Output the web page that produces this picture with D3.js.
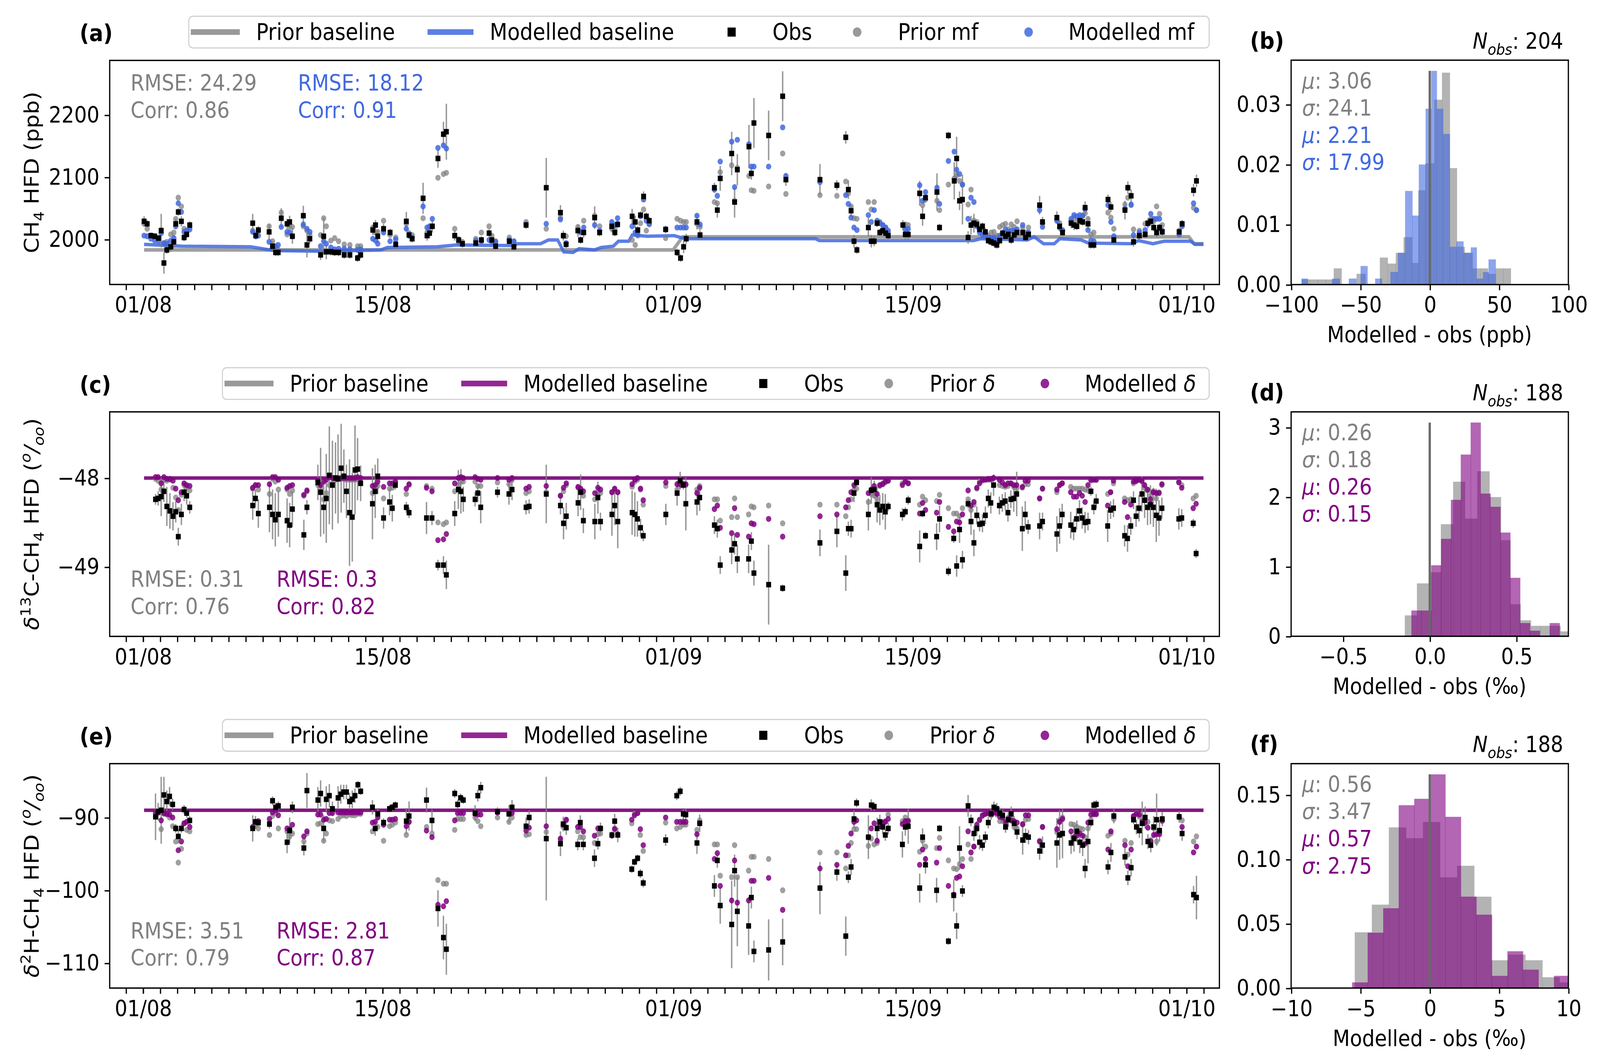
<!DOCTYPE html>
<html><head><meta charset="utf-8">
<script src="https://cdn.jsdelivr.net/npm/d3@7"></script>
<style>html,body{margin:0;padding:0;overflow:hidden;background:#fff}text{font-family:"DejaVu Sans",sans-serif}
#c{position:fixed;left:0;top:0;width:100vw;height:100vh;display:block}</style>
</head><body><svg id="c"></svg>
<script>
// ---------- DATA: [day since 01/08, obs, prior, modelled, obs error] ----------
const ch4 = [
[0.07,2029,2025,2006,8],[0.25,2025,2017,2005,6],[0.47,2006,2006,2001,5],[0.69,2005,2005,1998,5],[0.91,2002,2002,1997,5],
[1.07,2014,2015,2010,27],[1.23,1962,1993,1994,17],[1.40,1983,1996,1993,6],[1.63,1988,2008,1998,8],[1.81,1996,2011,2002,10],
[1.92,2025,2033,2021,8],[2.07,2044,2067,2058,6],[2.25,2029,2053,2044,8],[2.41,2003,2017,2012,6],[2.56,2008,2012,2014,6],
[2.74,2023,2020,2016,6],[6.42,2026,2014,2012,15],[6.60,2006,2006,2005,6],[6.75,2015,2014,2006,6],[7.38,2012,2021,1996,12],
[7.58,1989,1997,1988,8],[7.76,1979,1983,1989,6],[7.91,1979,1983,1991,6],[8.09,2034,2043,2020,16],[8.43,2025,2008,2012,8],
[8.58,2028,2020,2011,10],[8.74,2005,2020,2005,12],[9.38,2038,2021,2024,16],[9.59,1991,2014,2017,20],[9.76,2001,2007,2012,8],
[10.39,1975,2007,1989,8],[10.57,2005,2034,1997,30],[10.72,1980,2021,1993,12],[10.99,1980,1998,1987,6],[11.21,1979,2002,1984,6],
[11.44,1979,1997,1985,6],[11.77,1975,1992,1985,6],[12.10,1975,1991,1984,6],[12.55,1970,1989,1983,6],[12.73,1975,1989,1984,6],
[13.44,2015,2019,2001,8],[13.60,2023,2011,1998,8],[13.73,2005,2012,1993,10],[14.07,2017,2030,2011,8],[14.45,2011,2007,1997,6],
[14.78,1992,2003,2000,6],[15.40,2029,2025,2017,15],[15.56,2007,2010,2006,6],[15.74,2001,2007,2003,6],[16.38,2066,2034,2053,25],
[16.61,2006,2011,2019,8],[16.76,2010,2019,2021,8],[16.92,2021,2021,2033,10],[17.25,2130,2099,2147,15],[17.57,2169,2105,2151,20],
[17.74,2173,2107,2146,45],[18.23,2006,2017,2006,8],[18.46,1999,2000,1996,6],[18.68,1993,1996,1992,6],[19.46,1994,2001,1998,6],
[19.79,1999,2011,1997,6],[20.24,2010,2021,1999,6],[20.40,1999,2006,1996,6],[20.62,1989,1997,1996,6],[21.42,1997,2003,1999,6],
[21.69,1988,1996,1997,6],[22.40,2023,2028,2024,6],[23.58,2083,2017,2025,48],[24.41,2043,2035,2032,12],[24.58,2006,2005,2006,8],
[24.74,1992,2005,1994,6],[25.43,2014,2020,2015,10],[25.59,1999,2011,2012,6],[25.77,2011,2030,2019,8],[26.41,2035,2038,2023,18],
[26.70,2011,2021,2014,6],[27.41,2021,2017,2028,10],[27.59,2011,2015,2023,6],[27.75,2024,2025,2034,6],[28.60,2037,1999,2021,12],
[28.78,2028,1991,2011,10],[28.93,2015,2006,2008,6],[29.09,2039,2026,2037,6],[29.27,2069,2048,2064,8],[29.43,2037,2014,2030,6],
[29.60,2030,2024,2025,6],[30.56,2016,2002,2016,6],[31.23,1979,2033,2019,6],[31.43,1970,2030,2019,6],[31.61,1988,2028,2019,10],
[31.76,2001,2028,2019,8],[32.39,2028,2025,2038,12],[32.57,2007,2020,2024,8],
[33.41,2083,2060,2080,8],[33.58,2047,2058,2070,12],[33.75,2098,2108,2125,20],[34.42,2138,2119,2157,35],[34.59,2060,2062,2084,25],
[34.75,2112,2115,2160,25],[35.43,2149,2102,2153,35],[35.57,2106,2079,2117,10],[35.72,2187,2078,2117,40],[36.58,2167,2085,2117,40],
[37.40,2230,2138,2180,40],[37.59,2096,2073,2102,10],[39.58,2096,2071,2092,25],[40.57,2087,2070,2087,8],[41.09,2164,2093,2071,10],
[41.24,2080,2074,2057,15],[41.40,2046,2053,2035,10],[41.57,1997,2034,2019,10],[41.74,1983,2033,2015,6],[42.41,2019,2060,2039,15],
[42.58,1997,2048,2028,10],[42.75,1997,2060,2047,8],[42.92,2026,2026,2030,6],[43.08,2011,2028,2026,6],[43.25,2014,2023,2023,6],
[43.42,2010,2019,2019,6],[43.57,2006,2011,2014,6],[44.43,2023,2023,2023,8],[44.57,2008,2024,2016,10],[44.74,2008,2023,2017,8],
[45.41,2074,2073,2087,20],[45.58,2037,2055,2062,15],[45.75,2067,2064,2076,8],[46.42,2076,2062,2083,30],[46.57,2019,2047,2057,6],
[47.09,2167,2088,2126,6],[47.43,2094,2098,2141,30],[47.57,2130,2103,2112,35],[47.74,2062,2094,2105,15],[47.91,2064,2088,2088,40],
[48.24,2003,2056,2033,10],[48.41,2023,2080,2067,15],[48.58,2026,2030,2060,15],[48.75,2024,2028,2021,6],[48.91,2016,2015,2011,6],
[49.08,2021,2019,2008,6],[49.25,2012,2010,2006,6],[49.42,1998,2006,2003,6],[49.59,1996,2011,2002,6],[49.75,1994,2012,2003,6],
[49.92,1991,2006,1999,6],[50.09,1998,2020,2006,6],[50.26,2010,2023,2010,6],[50.43,2005,2025,2016,6],[50.59,2008,2016,2012,6],
[50.76,1999,2024,2014,6],[50.93,2007,2020,2014,8],[51.10,2011,2029,2016,8],[51.43,2011,2019,2023,6],[51.60,2003,2011,2008,6],
[51.77,2008,2019,2011,6],[52.42,2055,2053,2047,15],[52.59,2028,2026,2020,8],[53.43,2035,2032,2030,10],[53.59,2021,2026,2019,8],
[53.76,2011,2015,2014,6],[54.26,2026,2029,2033,8],[54.43,2023,2035,2039,8],[54.60,2021,2028,2037,6],[54.77,2030,2034,2039,6],
[54.94,2028,2038,2038,6],[55.08,2051,2042,2049,10],[55.25,2025,2033,2015,10],[55.42,1991,2008,1998,6],[55.59,1991,2011,1997,6],
[56.42,2064,2043,2055,8],[56.59,2052,2035,2028,8],[56.76,1999,2017,2005,6],[57.41,2047,2056,2049,15],[57.58,2083,2067,2083,10],
[57.77,2070,2055,2056,10],[57.91,1996,2016,2007,8],[58.25,2006,2014,2011,6],[58.59,2008,2025,2015,6],[58.75,2026,2026,2025,8],
[58.92,2029,2033,2041,6],[59.09,2019,2029,2033,6],[59.26,2011,2053,2033,8],[59.43,2019,2041,2033,6],[59.59,2012,2023,2014,6],
[60.58,2012,2014,2008,6],[60.75,2025,2025,2021,6],[61.42,2079,2051,2058,10],[61.59,2094,2047,2047,10]];
const ch4PriorBase = [[0.07,1983],[31.0,1983],[31.55,2004],[61.15,2004],[61.45,1993],[62.0,1993]];
const ch4ModelBase = [[0.07,1992],[2.3,1989],[6.3,1988],[7.65,1982],[10.3,1981],[13.9,1983],[14.3,1987],[17.2,1988],[18.35,1991],
[21.7,1990],[21.9,1993],[23.25,1993],[23.7,1999],[24.25,1999],[24.6,1980],[25.15,1979],[25.5,1985],[26.4,1983],[26.8,1987],
[27.5,1989],[27.8,1997],[28.4,1997],[28.6,2007],[29.5,2005],[31.05,2006],[31.7,2001],[39.33,2001],[39.54,1998],[48.56,1998],
[48.98,2001],[51.7,1999],[52.1,2004],[52.65,1993],[53.28,1993],[53.6,2001],[54.85,1999],[55.27,1994],[57.8,1993],[58.2,1998],
[59.05,1993],[59.7,1997],[61.25,1997],[61.5,1992],[62.0,1992]];

const d13c = [
[0.74,-48.24,-48.01,-47.99,0.06],[0.89,-48.23,-48.03,-47.99,0.08],[1.07,-48.21,-48.13,-48.06,0.22],[1.23,-48.15,-48.02,-47.99,0.12],
[1.40,-48.32,-48.03,-48.01,0.22],[1.58,-48.37,-48.02,-48.01,0.2],[1.76,-48.43,-48.11,-48.03,0.16],[1.92,-48.38,-48.22,-48.12,0.12],
[2.07,-48.66,-48.36,-48.25,0.1],[2.25,-48.41,-48.19,-48.16,0.12],[2.41,-48.16,-48.08,-48.06,0.1],[2.56,-48.20,-48.11,-48.08,0.1],
[2.74,-48.33,-48.14,-48.09,0.07],[6.42,-48.31,-48.12,-48.11,0.16],[6.58,-48.23,-48.08,-48.08,0.1],[6.75,-48.40,-48.13,-48.08,0.16],
[7.40,-48.33,-48.18,-48.07,0.28],[7.58,-48.41,-48.01,-47.99,0.28],[7.74,-48.47,-48.04,-47.99,0.3],[7.92,-48.41,-48.13,-48.02,0.25],
[8.43,-48.48,-48.13,-48.11,0.25],[8.58,-48.53,-48.18,-48.09,0.25],[8.74,-48.35,-48.14,-48.08,0.2],[9.41,-48.64,-48.20,-48.19,0.17],
[9.59,-48.33,-48.15,-48.14,0.08],[10.23,-48.05,-48.08,-48.03,0.2],[10.39,-48.16,-48.11,-48.08,0.5],[10.57,-48.33,-48.24,-48.04,0.3],
[10.72,-48.23,-48.17,-48.02,0.5],[10.90,-47.97,-48.08,-47.99,0.55],[11.08,-48.08,-48.06,-48.00,0.5],[11.26,-48.00,-48.02,-48.00,0.4],
[11.41,-48.01,-48.01,-48.00,0.5],[11.59,-47.89,-48.01,-48.00,0.5],[11.75,-47.98,-48.01,-48.00,0.3],[11.90,-48.15,-48.02,-48.00,0.3],
[12.08,-48.39,-48.02,-48.00,0.6],[12.24,-48.44,-48.02,-48.00,0.5],[12.40,-47.91,-48.02,-48.00,0.5],[12.55,-47.90,-48.01,-47.99,0.35],
[12.73,-48.06,-48.01,-48.00,0.2],[13.42,-48.29,-48.17,-48.09,0.4],[13.58,-48.15,-48.14,-48.08,0.3],[13.73,-47.98,-48.09,-48.04,0.2],
[14.07,-48.45,-48.23,-48.10,0.12],[14.42,-48.27,-48.12,-48.06,0.15],[14.58,-48.34,-48.11,-48.06,0.15],[14.76,-48.08,-48.05,-48.04,0.05],
[15.40,-48.33,-48.18,-48.12,0.06],[15.56,-48.39,-48.08,-48.07,0.06],[16.58,-48.45,-48.09,-48.11,0.18],[16.90,-48.45,-48.12,-48.15,0.08],
[17.25,-48.98,-48.50,-48.70,0.06],[17.57,-48.98,-48.52,-48.69,0.1],[17.74,-49.09,-48.50,-48.63,0.16],[18.23,-48.40,-48.15,-48.06,0.14],
[18.44,-48.13,-48.08,-48.00,0.22],[18.59,-48.15,-48.04,-47.99,0.25],[18.73,-48.24,-48.04,-48.00,0.14],[19.42,-48.24,-48.04,-47.99,0.08],
[19.58,-48.17,-48.09,-48.01,0.1],[19.75,-48.33,-48.09,-48.02,0.18],[20.73,-48.16,-48.05,-48.00,0.06],[21.40,-48.18,-48.07,-48.02,0.12],
[21.58,-48.13,-48.02,-48.00,0.12],[22.40,-48.33,-48.17,-48.12,0.08],[22.58,-48.32,-48.15,-48.10,0.08],[23.58,-48.18,-48.16,-48.09,0.33],
[24.41,-48.31,-48.20,-48.20,0.1],[24.59,-48.51,-48.15,-48.11,0.18],[24.75,-48.43,-48.08,-48.06,0.15],[25.44,-48.28,-48.11,-48.10,0.15],
[25.59,-48.16,-48.14,-48.12,0.2],[25.75,-48.48,-48.20,-48.15,0.14],[26.42,-48.49,-48.24,-48.17,0.2],[26.60,-48.22,-48.17,-48.11,0.18],
[26.75,-48.49,-48.17,-48.13,0.1],[27.42,-48.41,-48.16,-48.16,0.24],[27.58,-48.31,-48.13,-48.12,0.22],[27.76,-48.49,-48.16,-48.16,0.3],
[28.60,-48.39,-48.10,-48.07,0.25],[28.76,-48.41,-48.04,-48.02,0.25],[28.91,-48.46,-48.02,-48.00,0.2],[29.09,-48.56,-48.13,-48.12,0.1],
[29.25,-48.65,-48.30,-48.25,0.06],[30.57,-48.41,-48.09,-48.05,0.12],[31.23,-48.17,-48.13,-48.07,0.14],[31.41,-48.03,-48.08,-48.07,0.1],
[31.59,-48.08,-48.06,-48.07,0.05],[31.74,-48.29,-48.08,-48.07,0.3],[32.39,-48.27,-48.13,-48.17,0.15],[32.55,-48.22,-48.09,-48.11,0.15],
[33.41,-48.53,-48.24,-48.35,0.1],[33.58,-48.57,-48.24,-48.31,0.1],[33.75,-48.98,-48.48,-48.56,0.1],[34.42,-48.81,-48.44,-48.62,0.16],
[34.59,-48.74,-48.23,-48.34,0.12],[34.75,-48.91,-48.44,-48.64,0.16],[35.41,-48.91,-48.41,-48.66,0.16],[35.57,-48.71,-48.32,-48.51,0.1],
[35.72,-49.07,-48.33,-48.52,0.14],[36.58,-49.20,-48.31,-48.46,0.45],[37.40,-49.24,-48.51,-48.66,0.04],[39.58,-48.73,-48.30,-48.43,0.15],
[40.57,-48.60,-48.30,-48.41,0.18],[41.09,-49.07,-48.43,-48.33,0.2],[41.24,-48.57,-48.33,-48.25,0.08],[41.40,-48.57,-48.24,-48.16,0.1],
[41.57,-48.17,-48.13,-48.08,0.1],[41.72,-48.05,-48.12,-48.04,0.04],[42.41,-48.41,-48.27,-48.17,0.18],[42.58,-48.14,-48.18,-48.13,0.15],
[42.75,-48.13,-48.20,-48.09,0.1],[42.92,-48.30,-48.24,-48.18,0.2],[43.08,-48.36,-48.09,-48.08,0.17],[43.25,-48.32,-48.06,-48.07,0.15],
[43.40,-48.38,-48.05,-48.04,0.2],[43.57,-48.32,-48.03,-48.03,0.05],[44.40,-48.41,-48.06,-48.08,0.07],[44.57,-48.38,-48.04,-48.04,0.05],
[44.74,-48.25,-48.06,-48.06,0.05],[45.41,-48.77,-48.30,-48.40,0.18],[45.58,-48.40,-48.21,-48.28,0.04],[45.75,-48.65,-48.25,-48.36,0.04],
[46.40,-48.66,-48.26,-48.39,0.15],[46.57,-48.46,-48.19,-48.27,0.15],[47.09,-49.05,-48.34,-48.55,0.05],[47.40,-48.68,-48.40,-48.60,0.05],
[47.57,-48.99,-48.40,-48.49,0.12],[47.74,-48.58,-48.43,-48.50,0.15],[47.91,-48.92,-48.34,-48.41,0.1],[48.24,-48.29,-48.24,-48.14,0.05],
[48.41,-48.49,-48.36,-48.31,0.15],[48.58,-48.73,-48.30,-48.27,0.15],[48.75,-48.42,-48.12,-48.11,0.1],[48.91,-48.52,-48.04,-48.06,0.08],
[49.08,-48.51,-48.03,-48.02,0.1],[49.25,-48.42,-48.01,-48.02,0.1],[49.42,-48.23,-48.02,-48.01,0.1],[49.57,-48.28,-48.02,-48.01,0.12],
[49.73,-48.08,-48.00,-48.00,0.12],[50.07,-48.31,-48.08,-48.02,0.1],[50.24,-48.28,-48.09,-48.05,0.1],[50.41,-48.26,-48.10,-48.08,0.1],
[50.57,-48.39,-48.09,-48.06,0.1],[50.74,-48.24,-48.06,-48.06,0.1],[50.91,-48.23,-48.10,-48.08,0.15],[51.08,-48.18,-48.12,-48.08,0.25],
[51.41,-48.57,-48.11,-48.10,0.25],[51.58,-48.41,-48.07,-48.03,0.15],[51.75,-48.55,-48.07,-48.03,0.08],[52.42,-48.54,-48.23,-48.23,0.15],
[52.59,-48.49,-48.12,-48.12,0.1],[53.43,-48.63,-48.16,-48.13,0.2],[53.59,-48.54,-48.08,-48.08,0.2],[53.74,-48.41,-48.06,-48.06,0.12],
[54.24,-48.53,-48.10,-48.16,0.15],[54.41,-48.58,-48.12,-48.21,0.12],[54.58,-48.46,-48.12,-48.21,0.12],[54.75,-48.37,-48.12,-48.17,0.12],
[54.91,-48.45,-48.12,-48.20,0.12],[55.08,-48.50,-48.13,-48.27,0.12],[55.25,-48.49,-48.14,-48.08,0.1],[55.42,-48.15,-48.03,-48.02,0.05],
[55.59,-48.33,-48.01,-48.02,0.08],[55.73,-48.26,-48.02,-48.02,0.08],[56.40,-48.54,-48.18,-48.31,0.18],[56.57,-48.36,-48.16,-48.16,0.1],
[56.74,-48.34,-48.06,-48.03,0.1],[57.39,-48.65,-48.23,-48.27,0.12],[57.56,-48.68,-48.25,-48.44,0.15],[57.75,-48.54,-48.24,-48.30,0.1],
[57.91,-48.25,-48.06,-48.04,0.1],[58.06,-48.43,-48.04,-48.03,0.12],[58.23,-48.34,-48.02,-48.02,0.15],[58.40,-48.18,-48.04,-48.03,0.2],
[58.56,-48.25,-48.11,-48.08,0.2],[58.73,-48.33,-48.14,-48.13,0.2],[58.90,-48.30,-48.20,-48.24,0.22],[59.07,-48.33,-48.15,-48.16,0.22],
[59.24,-48.42,-48.23,-48.17,0.3],[59.40,-48.45,-48.16,-48.17,0.2],[59.57,-48.34,-48.08,-48.07,0.12],[60.56,-48.46,-48.04,-48.05,0.12],
[60.73,-48.45,-48.08,-48.11,0.1],[61.40,-48.51,-48.23,-48.34,0.05],[61.57,-48.85,-48.20,-48.29,0.05]];
const d13cBase = [[0.07,-48.0],[62.0,-48.0]];

const d2h = [
[0.74,-89.9,-89.9,-89.4,3.2],[0.89,-89.2,-89.4,-89.3,1.2],[1.07,-89.0,-91.6,-90.4,4.6],[1.23,-86.9,-89.5,-89.4,2.5],[1.40,-87.8,-89.6,-89.5,1.5],
[1.56,-87.1,-90.0,-89.6,1.3],[1.74,-88.2,-91.2,-90.0,0.8],[1.92,-91.5,-93.3,-91.5,0.6],[2.07,-92.6,-96.2,-94.5,1.0],[2.25,-91.5,-94.3,-93.3,0.6],
[2.41,-88.9,-90.8,-90.8,0.6],[2.56,-89.4,-91.7,-90.6,0.6],[2.74,-90.4,-91.9,-91.3,0.6],[6.42,-91.5,-91.4,-91.3,1.8],[6.58,-90.6,-91.2,-90.6,0.8],
[6.75,-90.7,-91.5,-90.5,0.5],[7.40,-90.9,-92.4,-90.2,0.6],[7.58,-87.7,-89.8,-89.3,0.6],[7.76,-88.6,-89.4,-89.0,0.6],[7.92,-88.4,-91.5,-89.7,0.6],
[8.43,-93.4,-91.9,-91.5,1.5],[8.58,-91.8,-92.6,-91.6,1.8],[8.74,-88.6,-92.2,-91.0,0.8],[9.41,-94.2,-93.3,-92.6,1.0],[9.59,-86.3,-92.2,-91.9,2.4],
[10.23,-87.6,-90.9,-89.6,1.8],[10.39,-86.7,-90.8,-89.6,1.8],[10.57,-91.5,-93.2,-90.3,1.8],[10.72,-87.5,-92.2,-90.2,1.8],[10.90,-87.0,-90.4,-89.4,1.6],
[11.08,-88.8,-90.5,-89.4,1.0],[11.41,-87.3,-90.2,-89.3,1.6],[11.57,-86.8,-89.8,-89.3,1.3],[11.74,-86.5,-89.7,-89.3,1.0],[11.90,-86.5,-89.8,-89.3,1.0],
[12.08,-87.8,-89.6,-89.3,1.2],[12.24,-87.5,-89.7,-89.3,1.2],[12.40,-87.0,-89.7,-89.3,1.0],[12.57,-85.5,-89.5,-89.3,0.5],[12.73,-86.4,-89.5,-89.3,0.5],
[13.42,-88.6,-91.9,-90.7,1.0],[13.58,-91.5,-91.5,-90.6,1.0],[13.73,-89.5,-91.3,-90.0,0.8],[14.07,-90.7,-93.2,-91.0,0.6],[14.42,-88.8,-91.2,-90.3,0.5],
[14.58,-88.6,-91.0,-90.3,0.5],[14.76,-88.3,-90.7,-90.2,0.5],[15.40,-90.5,-92.4,-91.2,1.8],[15.56,-89.8,-90.6,-90.6,2.0],[16.58,-87.6,-91.3,-91.8,1.7],
[16.90,-90.4,-92.2,-92.7,1.5],[17.25,-102.5,-98.6,-102.0,2.5],[17.57,-106.5,-99.1,-102.2,3.0],[17.74,-108.1,-99.1,-101.5,3.5],[18.23,-86.7,-91.7,-90.4,0.6],
[18.40,-88.2,-90.2,-89.4,0.6],[18.57,-87.3,-90.2,-89.4,0.6],[18.73,-87.6,-90.2,-89.4,0.5],[19.42,-89.4,-90.0,-89.5,1.1],[19.58,-87.0,-90.5,-89.6,0.8],
[19.75,-85.9,-91.2,-89.6,0.8],[20.73,-89.2,-90.0,-89.3,0.6],[21.40,-89.5,-90.6,-89.4,1.2],[21.58,-88.6,-90.0,-89.4,1.0],[22.40,-91.2,-92.4,-91.8,1.2],
[22.58,-90.0,-92.3,-91.4,1.0],[23.58,-92.9,-92.0,-91.2,8.5],[24.41,-93.6,-93.1,-92.9,1.7],[24.57,-90.9,-91.3,-91.0,1.0],[24.75,-91.4,-90.4,-90.3,1.0],
[25.42,-93.7,-91.9,-91.3,0.8],[25.57,-90.7,-92.7,-91.3,1.0],[25.75,-93.7,-92.7,-91.9,0.8],[26.40,-95.6,-93.5,-92.5,1.2],[26.60,-93.6,-92.3,-91.5,0.8],
[26.75,-91.5,-92.2,-91.5,0.8],[27.42,-92.4,-92.4,-92.5,0.5],[27.58,-90.5,-91.5,-91.6,1.0],[27.76,-92.4,-92.4,-92.3,1.0],[28.58,-97.1,-90.8,-90.3,0.5],
[28.74,-96.1,-89.5,-89.7,0.5],[28.92,-95.6,-89.4,-89.4,0.5],[29.08,-97.7,-92.4,-91.6,0.6],[29.25,-99.0,-94.6,-93.8,0.6],[30.56,-93.1,-90.7,-90.0,0.8],
[31.21,-87.0,-91.5,-90.6,0.6],[31.41,-86.4,-91.3,-90.6,0.6],[31.59,-89.5,-91.0,-90.6,0.8],[31.74,-89.6,-91.0,-90.6,0.8],[32.39,-93.5,-91.7,-92.3,1.5],
[32.55,-90.8,-90.4,-90.8,1.2],
[33.41,-99.4,-93.7,-95.7,1.5],[33.58,-95.9,-93.7,-94.9,1.0],[33.75,-102.1,-98.0,-99.4,2.5],[34.42,-104.7,-98.2,-101.4,6.0],[34.59,-97.3,-93.8,-95.9,2.2],
[34.75,-102.9,-98.2,-101.7,4.8],[35.41,-104.9,-97.3,-101.4,4.0],[35.57,-101.0,-95.4,-98.7,1.5],[35.72,-108.4,-95.4,-98.7,1.5],[36.58,-108.2,-95.7,-98.3,4.2],
[37.40,-107.1,-100.0,-102.7,3.2],[39.58,-99.7,-94.8,-97.0,3.6],[40.57,-97.5,-94.8,-96.5,1.2],[41.09,-106.3,-97.0,-95.2,2.7],[41.24,-98.2,-95.2,-93.9,0.8],
[41.40,-96.8,-93.5,-92.2,1.1],[41.57,-90.2,-91.6,-90.6,1.2],[41.72,-88.0,-91.6,-90.4,0.6],[42.41,-92.7,-93.9,-92.7,3.0],[42.58,-88.3,-92.9,-91.5,0.8],
[42.75,-88.5,-93.7,-90.8,0.6],[42.92,-91.5,-93.5,-93.2,1.5],[43.08,-90.6,-91.0,-91.2,1.0],[43.25,-91.3,-90.7,-90.7,1.0],[43.40,-92.4,-90.5,-90.6,0.8],
[43.57,-91.5,-89.6,-90.2,0.8],[44.40,-93.7,-90.5,-90.9,1.8],[44.57,-91.3,-90.0,-90.5,1.2],[44.74,-91.2,-90.4,-90.5,2.4],[45.41,-99.7,-94.7,-96.5,2.0],
[45.58,-92.7,-93.2,-94.4,1.2],[45.75,-96.5,-94.0,-95.7,1.2],[46.40,-100.0,-94.2,-96.2,1.7],[46.57,-91.5,-92.8,-94.2,0.5],[47.09,-107.0,-95.9,-99.4,0.5],
[47.40,-100.7,-97.0,-100.6,2.2],[47.57,-104.9,-97.1,-98.3,1.8],[47.74,-94.2,-96.4,-98.1,3.0],[47.91,-100.1,-95.7,-96.7,0.8],[48.24,-88.4,-93.7,-91.9,1.5],
[48.41,-90.4,-95.7,-94.8,0.8],[48.58,-92.2,-94.0,-94.0,1.0],[48.75,-91.5,-91.6,-91.0,1.0],[48.91,-93.4,-90.4,-90.3,1.0],[49.08,-93.8,-89.8,-89.7,0.8],
[49.25,-92.7,-89.5,-89.5,0.8],[49.42,-90.7,-89.4,-89.4,0.8],[49.59,-89.5,-89.7,-89.4,0.8],[49.75,-88.6,-89.3,-89.3,0.8],[49.92,-88.8,-89.6,-89.4,0.8],
[50.09,-89.4,-90.5,-89.9,0.8],[50.26,-89.7,-90.5,-90.0,0.8],[50.43,-91.3,-90.8,-90.6,0.8],[50.59,-90.3,-90.0,-90.2,1.0],[50.76,-89.5,-90.2,-90.4,1.0],
[50.93,-90.8,-91.3,-90.5,1.0],[51.10,-92.0,-91.5,-90.7,1.0],[51.43,-93.1,-91.0,-90.9,2.0],[51.60,-92.5,-90.3,-89.7,1.0],[51.77,-92.7,-90.2,-89.7,1.0],
[52.42,-94.6,-93.2,-93.3,1.2],[52.59,-93.8,-91.3,-91.3,1.2],[53.43,-93.5,-92.0,-91.6,3.4],[53.59,-92.4,-90.4,-90.6,3.4],[53.76,-92.2,-90.0,-90.2,3.4],
[54.26,-93.5,-90.9,-91.9,1.5],[54.43,-92.9,-91.0,-92.7,1.8],[54.60,-91.9,-91.3,-92.5,1.5],[54.77,-93.4,-91.5,-92.2,1.5],[54.94,-93.8,-91.6,-92.5,1.5],
[55.08,-97.0,-92.7,-93.6,1.3],[55.25,-93.3,-91.5,-90.7,3.0],[55.42,-90.7,-90.3,-89.6,0.6],[55.59,-88.3,-89.6,-89.5,0.6],[55.73,-88.2,-89.6,-89.5,0.6],
[56.42,-96.8,-92.5,-94.4,1.0],[56.59,-94.8,-92.2,-91.9,1.3],[56.76,-89.8,-90.2,-89.8,1.0],[57.41,-95.4,-93.2,-93.8,1.2],[57.58,-98.3,-95.1,-96.7,1.0],
[57.77,-96.9,-93.5,-94.4,1.2],[57.91,-90.3,-89.9,-89.8,0.6],[58.08,-91.3,-89.4,-89.5,1.0],[58.25,-91.8,-89.9,-89.6,1.0],[58.42,-90.8,-90.4,-90.6,3.0],
[58.59,-90.0,-90.4,-90.7,1.5],[58.75,-93.3,-90.6,-91.4,1.0],[58.92,-93.8,-93.1,-93.3,1.0],[59.09,-91.3,-91.5,-92.4,1.5],[59.26,-90.3,-93.3,-92.3,3.6],
[59.43,-91.8,-91.9,-92.3,1.5],[59.59,-90.2,-90.5,-90.4,1.0],[60.58,-89.9,-90.0,-89.9,0.8],[60.75,-92.2,-90.4,-91.3,1.0],[61.42,-100.6,-93.3,-94.8,1.2],
[61.59,-101.0,-92.6,-94.0,3.0]];
const d2hBase = [[0.07,-89.0],[62.0,-89.0]];

// histograms: [bin start, bin end, density]
const histPriorCH4 = [[-92.5,-86.7,0.00085],[-86.7,-80.9,0.00085],[-80.9,-75.1,0.00085],[-75.1,-69.3,0.00085],[-69.3,-63.7,0.0027],
[-52.8,-46.4,0.0018],[-36,-30.4,0.0045],[-30.4,-24.5,0.0035],[-24.5,-18.9,0.0053],[-18.9,-12.8,0.0079],[-12.8,-8.3,0.0036],
[-8.3,-3.2,0.0157],[-3.2,3.2,0.0202],[3.2,8.8,0.0308],[8.8,14.4,0.0353],[14.4,19.5,0.0194],[19.5,25.1,0.0063],[25.1,30.9,0.0053],
[30.9,36.4,0.0027],[36.4,41.9,0.0027],[41.9,47.5,0.0018],[47.5,53.0,0.0027],[53.0,58.4,0.0027]];
const histModelCH4 = [[-92.5,-88,0.001],[-70.5,-65,0.001],[-58.4,-53,0.001],[-49.9,-45,0.0031],[-39.4,-34.6,0.001],[-28.4,-23,0.0021],
[-23,-17.8,0.0053],[-17.8,-12.6,0.0156],[-12.6,-7.9,0.0115],[-7.9,-3.0,0.020],[-3,1.0,0.0293],[1.0,5.0,0.0356],[5.0,9.6,0.0293],
[9.6,14.4,0.0251],[14.4,19.2,0.0063],[19.2,24.2,0.0072],[24.2,29.6,0.0053],[29.6,33.8,0.0062],[33.8,38.4,0.001],[38.4,42.4,0.0021],[42.4,47.5,0.0042]];
const histPriorD13 = [[-0.144,-0.074,0.30],[-0.074,0,0.76],[0,0.064,0.92],[0.064,0.135,1.61],[0.135,0.203,2.22],[0.203,0.274,1.69],
[0.274,0.344,2.37],[0.344,0.41,2.0],[0.41,0.465,1.38],[0.465,0.523,0.46],[0.523,0.583,0.23],[0.583,0.638,0.15],[0.638,0.695,0.15],
[0.695,0.754,0.15],[0.754,0.81,0.07]];
const histModelD13 = [[-0.106,-0.049,0.37],[-0.049,0.008,0.37],[0.008,0.065,1.02],[0.065,0.122,1.40],[0.122,0.179,1.96],[0.179,0.236,2.61],
[0.236,0.293,3.07],[0.293,0.35,2.05],[0.35,0.407,1.86],[0.407,0.464,1.49],[0.464,0.521,0.84],[0.521,0.578,0.19],[0.578,0.635,0.08],
[0.692,0.749,0.19]];
const histPriorD2H = [[-5.41,-4.18,0.0433],[-4.18,-2.95,0.0648],[-2.95,-1.72,0.1248],[-1.72,-0.49,0.1164],[-0.49,0.74,0.129],
[0.74,1.97,0.086],[1.97,3.2,0.095],[3.2,4.43,0.071],[4.43,5.66,0.0216],[5.66,6.89,0.026],[6.89,8.12,0.0216],[8.12,9.35,0.0084],[9.35,10.58,0.0044]];
const histModelD2H = [[-5.6,-4.48,0.0044],[-4.48,-3.36,0.043],[-3.36,-2.24,0.062],[-2.24,-1.12,0.142],[-1.12,0,0.147],[0,1.12,0.166],
[1.12,2.24,0.133],[2.24,3.36,0.071],[3.36,4.48,0.057],[4.48,5.6,0.0095],[5.6,6.72,0.0286],[6.72,7.84,0.0143],[8.96,10.08,0.0095]];

const dateTicks = [0,14,31,45,61];
const dateLabels = ["01/08","15/08","01/09","15/09","01/10"];

// ---------- DRAWING ----------
const W=1568,H=938.8;
const svg=d3.select("#c").attr("viewBox",`0 0 ${W} ${H}`).attr("preserveAspectRatio","none");
const FS=19.5;
const MINUS=s=>String(s).replace("-","\u2212");
const x=d3.scaleLinear().domain([-1.94,62.93]).range([107.5,1195]);
const GRAY="#808080";

function axisStyle(g){g.selectAll("path.domain").remove();g.selectAll("line").attr("stroke","#000").attr("stroke-width",1.2);
 g.selectAll("text").attr("font-size",FS).attr("fill","#000");}

function timePanel(o){
 const y=d3.scaleLinear().domain(o.ydom).range([o.y1,o.y0]);
 const g=svg.append("g");
 const gx=g.append("g").attr("transform",`translate(0,${o.y1})`)
  .call(d3.axisBottom(x).tickValues(d3.range(-1,63)).tickSize(5).tickFormat(""));
 const gx2=g.append("g").attr("transform",`translate(0,${o.y1})`)
  .call(d3.axisBottom(x).tickValues(dateTicks).tickSize(5).tickPadding(6).tickFormat((d,i)=>dateLabels[i]));
 axisStyle(gx);axisStyle(gx2);
 const gy=g.append("g").attr("transform",`translate(107.5,0)`)
  .call(d3.axisLeft(y).tickValues(o.yticks).tickSize(5).tickPadding(5).tickFormat(d=>MINUS(d)));
 axisStyle(gy);
 const clip="cl"+o.id;
 svg.append("clipPath").attr("id",clip).append("rect").attr("x",107.5).attr("y",o.y0).attr("width",1195-107.5).attr("height",o.y1-o.y0);
 const pg=g.append("g").attr("clip-path",`url(#${clip})`);
 const line=d3.line().x(d=>x(d[0])).y(d=>y(d[1]));
 pg.append("path").datum(o.pb).attr("d",line).attr("fill","none").attr("stroke",GRAY).attr("stroke-opacity",0.75).attr("stroke-width",3.2);
 pg.append("path").datum(o.mb).attr("d",line).attr("fill","none").attr("stroke",o.col).attr("stroke-opacity",0.85).attr("stroke-width",3);
 pg.selectAll(".eb").data(o.data).join("line").attr("x1",d=>x(d[0])).attr("x2",d=>x(d[0]))
  .attr("y1",d=>y(d[1]-d[4])).attr("y2",d=>y(d[1]+d[4])).attr("stroke",GRAY).attr("stroke-opacity",0.8).attr("stroke-width",1.4);
 pg.selectAll(".pr").data(o.data).join("circle").attr("cx",d=>x(d[0])).attr("cy",d=>y(d[2])).attr("r",2.6).attr("fill",GRAY).attr("fill-opacity",0.75);
 pg.selectAll(".md").data(o.data).join("circle").attr("cx",d=>x(d[0])).attr("cy",d=>y(d[3])).attr("r",2.6).attr("fill",o.col).attr("fill-opacity",0.85);
 pg.selectAll(".ob").data(o.data).join("rect").attr("x",d=>x(d[0])-2.4).attr("y",d=>y(d[1])-2.4).attr("width",4.8).attr("height",4.8).attr("fill","#000");
 g.append("rect").attr("x",107.5).attr("y",o.y0).attr("width",1195-107.5).attr("height",o.y1-o.y0).attr("fill","none").attr("stroke","#000").attr("stroke-width",1.2);
 const st=g.append("g").attr("font-size",FS);
 st.append("text").attr("x",128).attr("y",o.sy).attr("fill",GRAY).text(o.stats[0]);
 st.append("text").attr("x",128).attr("y",o.sy+24).attr("fill",GRAY).text(o.stats[1]);
 st.append("text").attr("x",o.sx2).attr("y",o.sy).attr("fill",o.tcol).text(o.stats[2]);
 st.append("text").attr("x",o.sx2).attr("y",o.sy+24).attr("fill",o.tcol).text(o.stats[3]);
 svg.append("text").attr("x",78).attr("y",o.y0-17).attr("font-size",FS+1).attr("font-weight","bold").text(o.label);
 const yl=svg.append("text").attr("transform",`translate(38,${(o.y0+o.y1)/2}) rotate(-90)`).attr("text-anchor","middle").attr("font-size",FS);
 o.ylab(yl);
 const L=o.leg, ly=o.y0-25;
 const lg=svg.append("g").attr("font-size",FS+0.5);
 lg.append("rect").attr("x",L.x0).attr("y",ly-14).attr("width",1185-L.x0).attr("height",28).attr("rx",4).attr("fill","#fff").attr("stroke","#d0d0d0");
 lg.append("line").attr("x1",L.x0+2).attr("x2",L.x0+50).attr("y1",ly).attr("y2",ly).attr("stroke",GRAY).attr("stroke-opacity",0.8).attr("stroke-width",5);
 lg.append("text").attr("x",L.x0+66).attr("y",ly+7).text("Prior baseline");
 lg.append("line").attr("x1",L.b).attr("x2",L.b+45).attr("y1",ly).attr("y2",ly).attr("stroke",o.col).attr("stroke-opacity",0.85).attr("stroke-width",5);
 lg.append("text").attr("x",L.b+61).attr("y",ly+7).text("Modelled baseline");
 lg.append("rect").attr("x",L.o-4).attr("y",ly-4).attr("width",8).attr("height",8).attr("fill","#000");
 lg.append("text").attr("x",L.o+40).attr("y",ly+7).text("Obs");
 lg.append("circle").attr("cx",L.p).attr("cy",ly).attr("r",4.2).attr("fill",GRAY).attr("fill-opacity",0.8);
 L.ptxt(lg.append("text").attr("x",L.p+40).attr("y",ly+7));
 lg.append("circle").attr("cx",L.m).attr("cy",ly).attr("r",4.2).attr("fill",o.col).attr("fill-opacity",0.85);
 L.mtxt(lg.append("text").attr("x",L.m+39).attr("y",ly+7));
}
const delta=(t,pre)=>{t.append("tspan").text(pre);t.append("tspan").attr("font-style","italic").text("δ");};
const isoLab=(t,sup,el)=>{t.append("tspan").attr("font-style","italic").text("δ");
 t.append("tspan").attr("dy",-8).attr("font-size",FS*0.7).text(sup);
 t.append("tspan").attr("dy",8).text(el+"-CH");
 t.append("tspan").attr("dy",5).attr("font-size",FS*0.7).text("4");
 t.append("tspan").attr("dy",-5).text(" HFD (");
 t.append("tspan").attr("dy",-8).attr("font-size",FS*0.7).attr("font-style","italic").text("o");
 t.append("tspan").attr("dy",8).attr("font-style","italic").text("/");
 t.append("tspan").attr("dy",5).attr("font-size",FS*0.7).attr("font-style","italic").text("oo");
 t.append("tspan").attr("dy",-5).text(")");};

timePanel({id:"a",data:ch4,pb:ch4PriorBase,mb:ch4ModelBase,ydom:[1927.5,2287.6],yticks:[2000,2100,2200],y0:53.3,y1:251,
 col:"royalblue",tcol:"royalblue",label:"(a)",sy:80,sx2:292,stats:["RMSE: 24.29","Corr: 0.86","RMSE: 18.12","Corr: 0.91"],
 ylab:t=>{t.append("tspan").text("CH");t.append("tspan").attr("dy",5).attr("font-size",FS*0.7).text("4");t.append("tspan").attr("dy",-5).text(" HFD (ppb)");},
 leg:{x0:185,b:419,o:717,p:840,m:1008,ptxt:t=>t.text("Prior mf"),mtxt:t=>t.text("Modelled mf")}});
timePanel({id:"c",data:d13c,pb:d13cBase,mb:d13cBase,ydom:[-49.782,-47.256],yticks:[-49,-48],y0:363.4,y1:561.5,
 col:"purple",tcol:"purple",label:"(c)",sy:518,sx2:271,stats:["RMSE: 0.31","Corr: 0.76","RMSE: 0.3","Corr: 0.82"],
 ylab:t=>isoLab(t,"13","C"),
 leg:{x0:218,b:452,o:748,p:871,m:1024,ptxt:t=>delta(t,"Prior "),mtxt:t=>delta(t,"Modelled ")}});
timePanel({id:"e",data:d2h,pb:d2hBase,mb:d2hBase,ydom:[-113.44,-82.6],yticks:[-110,-100,-90],y0:673.8,y1:871.8,
 col:"purple",tcol:"purple",label:"(e)",sy:828,sx2:271,stats:["RMSE: 3.51","Corr: 0.79","RMSE: 2.81","Corr: 0.87"],
 ylab:t=>isoLab(t,"2","H"),
 leg:{x0:218,b:452,o:748,p:871,m:1024,ptxt:t=>delta(t,"Prior "),mtxt:t=>delta(t,"Modelled ")}});

function histPanel(o){
 const hx=d3.scaleLinear().domain(o.xdom).range([1265.3,1537]);
 const ymax=d3.max(o.pri.concat(o.mod),d=>d[2]);
 const hy=d3.scaleLinear().domain([0,ymax*1.05]).range([o.y1,o.y0]);
 const g=svg.append("g");
 const clip="ch"+o.id;
 svg.append("clipPath").attr("id",clip).append("rect").attr("x",1265.3).attr("y",o.y0).attr("width",1537-1265.3).attr("height",o.y1-o.y0);
 const pg=g.append("g").attr("clip-path",`url(#${clip})`);
 pg.selectAll(".hp").data(o.pri).join("rect").attr("x",d=>hx(d[0])).attr("width",d=>hx(d[1])-hx(d[0])+0.3)
  .attr("y",d=>hy(d[2])).attr("height",d=>o.y1-hy(d[2])).attr("fill","gray").attr("fill-opacity",0.6);
 pg.selectAll(".hm").data(o.mod).join("rect").attr("x",d=>hx(d[0])).attr("width",d=>hx(d[1])-hx(d[0])+0.3)
  .attr("y",d=>hy(d[2])).attr("height",d=>o.y1-hy(d[2])).attr("fill",o.col).attr("fill-opacity",0.6);
 pg.append("line").attr("x1",hx(0)).attr("x2",hx(0)).attr("y1",o.y1).attr("y2",hy(ymax)).attr("stroke","dimgray").attr("stroke-width",2.2);
 const gx=g.append("g").attr("transform",`translate(0,${o.y1})`).call(d3.axisBottom(hx).tickValues(o.xt).tickSize(5).tickPadding(6).tickFormat(d=>MINUS(o.xf(d))));
 const gy=g.append("g").attr("transform",`translate(1265.3,0)`).call(d3.axisLeft(hy).tickValues(o.yt).tickSize(5).tickPadding(5).tickFormat(o.yf));
 axisStyle(gx);axisStyle(gy);
 g.append("rect").attr("x",1265.3).attr("y",o.y0).attr("width",1537-1265.3).attr("height",o.y1-o.y0).attr("fill","none").attr("stroke","#000").attr("stroke-width",1.2);
 const cols=[GRAY,GRAY,o.tcol,o.tcol];
 o.stats.forEach((s,i)=>{const t=g.append("text").attr("x",1276).attr("y",o.y0+25+i*24).attr("font-size",FS).attr("fill",cols[i]);
  t.append("tspan").attr("font-style","italic").text(i%2?"σ":"μ");t.append("tspan").text(": "+s);});
 const n=g.append("text").attr("x",1532).attr("y",o.y0-10).attr("text-anchor","end").attr("font-size",FS);
 n.append("tspan").attr("font-style","italic").text("N");n.append("tspan").attr("font-style","italic").attr("font-size",FS*0.7).attr("dy",5).text("obs");
 n.append("tspan").attr("dy",-5).text(": "+o.n);
 svg.append("text").attr("x",1225).attr("y",o.y0-10).attr("font-size",FS+1).attr("font-weight","bold").text(o.label);
 svg.append("text").attr("x",1401).attr("y",o.y1+51).attr("text-anchor","middle").attr("font-size",FS).text(o.xlab);
}
histPanel({id:"b",pri:histPriorCH4,mod:histModelCH4,xdom:[-100,100],xt:[-100,-50,0,50,100],xf:d=>d,yt:[0,0.01,0.02,0.03],yf:d3.format(".2f"),
 y0:53.1,y1:251.1,col:"royalblue",tcol:"royalblue",stats:["3.06","24.1","2.21","17.99"],n:204,label:"(b)",xlab:"Modelled - obs (ppb)"});
histPanel({id:"d",pri:histPriorD13,mod:histModelD13,xdom:[-0.8,0.8],xt:[-0.5,0,0.5],xf:d3.format(".1f"),yt:[0,1,2,3],yf:d3.format("d"),
 y0:363.4,y1:561.4,col:"purple",tcol:"purple",stats:["0.26","0.18","0.26","0.15"],n:188,label:"(d)",xlab:"Modelled - obs (‰)"});
histPanel({id:"f",pri:histPriorD2H,mod:histModelD2H,xdom:[-10,10],xt:[-10,-5,0,5,10],xf:d=>d,yt:[0,0.05,0.10,0.15],yf:d3.format(".2f"),
 y0:673.8,y1:871.8,col:"purple",tcol:"purple",stats:["0.56","3.47","0.57","2.75"],n:188,label:"(f)",xlab:"Modelled - obs (‰)"});
</script></body></html>
